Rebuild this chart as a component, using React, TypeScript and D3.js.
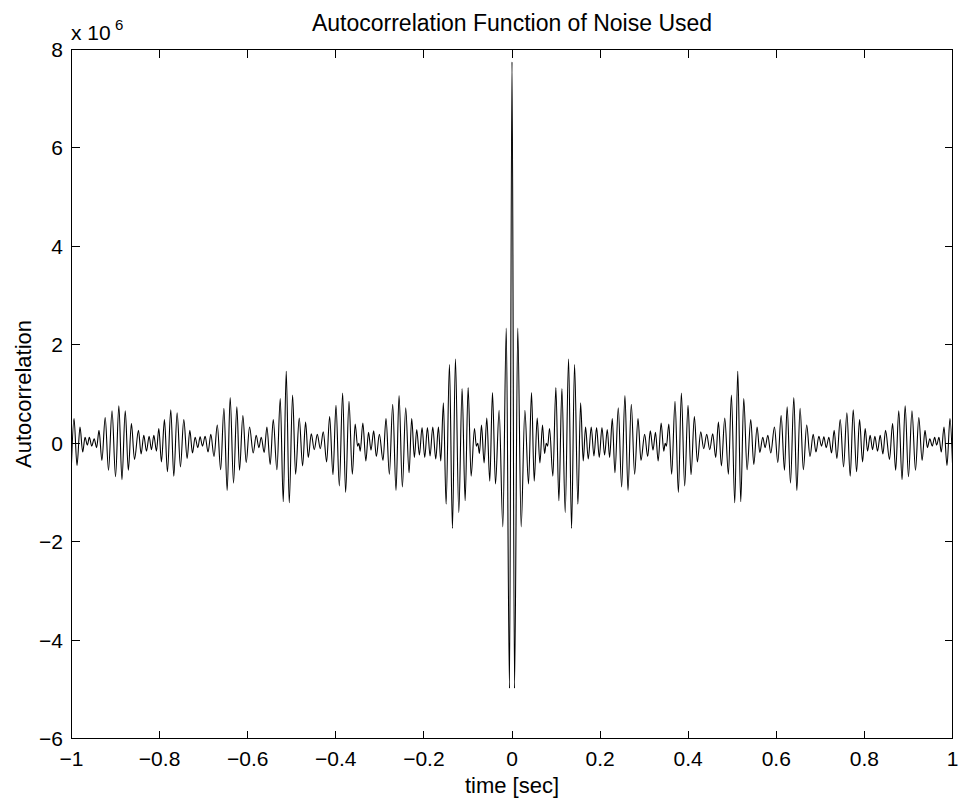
import React from "react";
import * as d3 from "d3";

// Autocorrelation (x 10^6) read at its local extrema for lags >= 0 (sec).
// The autocorrelation is even, so negative lags use the same values.
const lagSec = [
  0, 0.0057, 0.013, 0.0208, 0.0292, 0.0375, 0.0443, 0.0504, 0.0572, 0.0633,
  0.0693, 0.0739, 0.0777, 0.081, 0.0852, 0.0928, 0.0996, 0.1064, 0.1133, 0.1208,
  0.1284, 0.1352, 0.142, 0.1496, 0.1557, 0.1617, 0.167, 0.1731, 0.1799, 0.186,
  0.192, 0.1981, 0.2042, 0.2102, 0.2163, 0.2216, 0.2277, 0.2337, 0.2413, 0.2489,
  0.2564, 0.2633, 0.2708, 0.2784, 0.286, 0.2928, 0.3011, 0.308, 0.314, 0.3201,
  0.3258, 0.3318, 0.3386, 0.3445, 0.3478, 0.3505, 0.356, 0.3625, 0.3701, 0.3777,
  0.3845, 0.392, 0.3996, 0.4064, 0.414, 0.4208, 0.4284, 0.4352, 0.442, 0.4489,
  0.4557, 0.4625, 0.4686, 0.4754, 0.483, 0.4913, 0.4981, 0.5057, 0.5125, 0.5193,
  0.5261, 0.5337, 0.542, 0.5489, 0.5564, 0.5625, 0.5693, 0.5746, 0.5807, 0.5875,
  0.5958, 0.6034, 0.611, 0.6186, 0.6246, 0.6322, 0.6398, 0.6466, 0.654, 0.6614,
  0.669, 0.6765, 0.6837, 0.69, 0.6966, 0.7027, 0.708, 0.7133, 0.7193, 0.7254,
  0.7314, 0.7375, 0.7451, 0.7527, 0.7602, 0.7678, 0.7746, 0.7822, 0.789, 0.7958,
  0.8018, 0.8071, 0.8131, 0.8185, 0.8238, 0.8298, 0.8359, 0.842, 0.848, 0.857,
  0.864, 0.871, 0.878, 0.8855, 0.8925, 0.9, 0.908, 0.916, 0.9235, 0.931,
  0.9375, 0.943, 0.9485, 0.954, 0.9595, 0.964, 0.9693, 0.9746, 0.9807, 0.9875,
  0.9943, 1.0,
];

const acValues = [
  7.75, -4.98, 2.34, -1.7, 0.67, -0.83, 1.03, -0.77, 0.51, -0.4,
  0.37, -0.21, 0.0, -0.06, 0.3, -0.67, 1.13, -1.17, 1.11, -1.41,
  1.71, -1.73, 1.6, -1.24, 0.82, -0.36, 0.33, -0.32, 0.33, -0.26,
  0.32, -0.29, 0.32, -0.24, 0.28, -0.29, 0.5, -0.6, 0.72, -0.89,
  0.97, -0.96, 0.79, -0.63, 0.5, -0.35, 0.18, -0.27, 0.25, -0.14,
  0.22, -0.36, 0.41, -0.16, 0.0, -0.06, 0.39, -0.63, 0.85, -1.0,
  1.02, -0.87, 0.77, -0.64, 0.54, -0.38, 0.23, -0.11, 0.18, -0.13,
  0.19, -0.29, 0.43, -0.46, 0.51, -0.63, 0.98, -1.21, 1.46, -1.19,
  0.91, -0.54, 0.48, -0.43, 0.33, -0.19, 0.12, -0.09, 0.16, -0.2,
  0.33, -0.39, 0.56, -0.55, 0.74, -0.81, 0.93, -0.96, 0.71, -0.54,
  0.37, -0.27, 0.18, -0.18, 0.14, -0.06, 0.13, -0.09, 0.12, -0.2,
  0.26, -0.31, 0.48, -0.48, 0.62, -0.67, 0.68, -0.58, 0.48, -0.38,
  0.3, -0.16, 0.16, -0.13, 0.14, -0.16, 0.16, -0.22, 0.26, -0.33,
  0.4, -0.55, 0.66, -0.74, 0.76, -0.68, 0.66, -0.55, 0.52, -0.35,
  0.26, -0.09, 0.09, -0.06, 0.12, -0.04, 0.12, -0.18, 0.33, -0.45,
  0.5, -0.4,
];

const xTicks = [-1, -0.8, -0.6, -0.4, -0.2, 0, 0.2, 0.4, 0.6, 0.8, 1];
const yTicks = [-6, -4, -2, 0, 2, 4, 6, 8];

const titleText = "Autocorrelation Function of Noise Used";
const xLabelText = "time [sec]";
const yLabelText = "Autocorrelation";

const FONT = "'Liberation Sans', Arial, Helvetica, sans-serif";

function fmt(v: number): string {
  const s = String(Math.abs(v));
  return v < 0 ? "\u2212" + s : s;
}

export default function App() {
  const W = 961;
  const H = 802;
  const left = 71.5;
  const right = 952.5;
  const top = 49.5;
  const bottom = 738.5;
  const tickLen = 8;

  const x = d3.scaleLinear().domain([-1, 1]).range([left, right]);
  const y = d3.scaleLinear().domain([-6, 8]).range([bottom, top]);

  const pos: [number, number][] = lagSec.map((t, i) => [t, acValues[i]]);
  const neg: [number, number][] = lagSec
    .slice(1)
    .map((t, i) => [-t, acValues[i + 1]] as [number, number])
    .reverse();
  const pts = [...neg, ...pos];

  const line = d3
    .line<[number, number]>()
    .x((d) => x(d[0]))
    .y((d) => y(d[1]))
    .curve(d3.curveMonotoneX);

  return (
    <svg
      width={W}
      height={H}
      viewBox={`0 0 ${W} ${H}`}
      style={{ position: "absolute", left: 0, top: 0, background: "#fff" }}
      fontFamily={FONT}
    >
      <rect x={0} y={0} width={W} height={H} fill="#fff" />
      <text x={(left + right) / 2} y={31} fontSize={23} textAnchor="middle" fill="#000">
        {titleText}
      </text>
      {/* data */}
      <path d={line(pts) || ""} fill="none" stroke="#000" strokeWidth={1.1} />
      {/* box */}
      <g stroke="#000" strokeWidth={1} shapeRendering="crispEdges" fill="none">
        <rect x={left} y={top} width={right - left} height={bottom - top} />
        {xTicks.map((t) => (
          <g key={"xt" + t}>
            <line x1={x(t)} x2={x(t)} y1={bottom} y2={bottom - tickLen} />
            <line x1={x(t)} x2={x(t)} y1={top} y2={top + tickLen} />
          </g>
        ))}
        {yTicks.map((t) => (
          <g key={"yt" + t}>
            <line x1={left} x2={left + tickLen} y1={y(t)} y2={y(t)} />
            <line x1={right} x2={right - tickLen} y1={y(t)} y2={y(t)} />
          </g>
        ))}
      </g>
      {/* tick labels */}
      <g fontSize={21} fill="#000">
        {xTicks.map((t) => (
          <text key={"xl" + t} x={x(t)} y={766} textAnchor="middle">
            {fmt(t)}
          </text>
        ))}
        {yTicks.map((t) => (
          <text key={"yl" + t} x={63} y={y(t) + 7.5} textAnchor="end">
            {fmt(t)}
          </text>
        ))}
      </g>
      {/* exponent */}
      <text x={71} y={40} fontSize={21} fill="#000">
        x 10
      </text>
      <text x={115} y={30} fontSize={15} fill="#000">
        6
      </text>
      {/* axis labels */}
      <text x={(left + right) / 2} y={793} fontSize={22} textAnchor="middle" fill="#000">
        {xLabelText}
      </text>
      <text
        transform={`translate(31, ${(top + bottom) / 2}) rotate(-90)`}
        fontSize={22}
        textAnchor="middle"
        fill="#000"
      >
        {yLabelText}
      </text>
    </svg>
  );
}
